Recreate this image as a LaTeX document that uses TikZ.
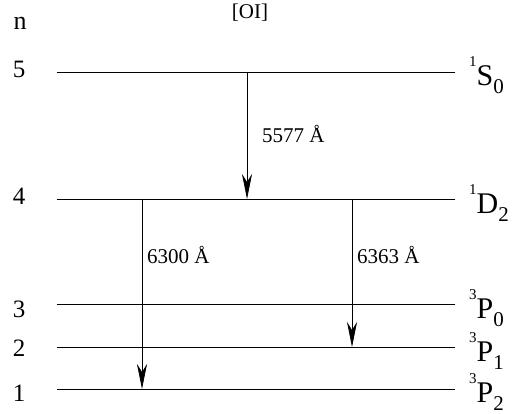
\documentclass[tikz,border=0pt]{standalone}
\usepackage{fontspec}
\setmainfont{Liberation Serif}
\usetikzlibrary{arrows.meta}
\newcommand{\termlabel}[3]{\raisebox{19pt}{\fontsize{15}{15}\selectfont #1}{\fontsize{30}{30}\selectfont #2}\raisebox{-8pt}{\fontsize{21}{21}\selectfont #3}}
\begin{document}
\begin{tikzpicture}[x=1pt,y=-1pt,
  every node/.style={inner sep=0pt},
  level/.style={line width=0.7pt},
  trans/.style={line width=0.7pt,-{Stealth[length=25pt,width=10pt,inset=8pt]}},
  num/.style={anchor=center,font=\fontsize{25}{30}\selectfont},
  lbl/.style={anchor=west,font=\fontsize{21}{25}\selectfont},
  term/.style={anchor=base west}]
\useasboundingbox (0,0) rectangle (516,414);
\node[font=\fontsize{26}{30}\selectfont] (n) at (20,23.5) {n};
\node[font=\fontsize{21}{24}\selectfont] (oi) at (250,13) {[OI]};
% levels
\coordinate (l5a) at (57,72);  \coordinate (l5b) at (455,72);
\coordinate (l4a) at (57,199); \coordinate (l4b) at (455,199);
\coordinate (l3a) at (57,304); \coordinate (l3b) at (455,304);
\coordinate (l2a) at (57,347); \coordinate (l2b) at (455,347);
\coordinate (l1a) at (57,389); \coordinate (l1b) at (455,389);
\draw[level] (l5a) -- (l5b);
\draw[level] (l4a) -- (l4b);
\draw[level] (l3a) -- (l3b);
\draw[level] (l2a) -- (l2b);
\draw[level] (l1a) -- (l1b);
\node[num] (n5) at (19,69) {5};
\node[num] (n4) at (19,196.5) {4};
\node[num] (n3) at (19,309) {3};
\node[num] (n2) at (19,348) {2};
\node[num] (n1) at (19,393) {1};
\node[term] (t5) at (469,86) {\termlabel{1}{S}{0}};
\node[term] (t4) at (469,213) {\termlabel{1}{D}{2}};
\node[term] (t3) at (469,318) {\termlabel{3}{P}{0}};
\node[term] (t2) at (469,361) {\termlabel{3}{P}{1}};
\node[term] (t1) at (469,402) {\termlabel{3}{P}{2}};
% transitions
\coordinate (a1s) at (247,72);  \coordinate (a1e) at (247,199);
\coordinate (a2s) at (142,199); \coordinate (a2e) at (142,389);
\coordinate (a3s) at (352,199); \coordinate (a3e) at (352,347);
\draw[trans] (a1s) -- (a1e);
\draw[trans] (a2s) -- (a2e);
\draw[trans] (a3s) -- (a3e);
\node[lbl] (w1) at (262,134) {5577 Å};
\node[lbl] (w2) at (147,255) {6300 Å};
\node[lbl] (w3) at (357,255) {6363 Å};
\end{tikzpicture}
\end{document}
